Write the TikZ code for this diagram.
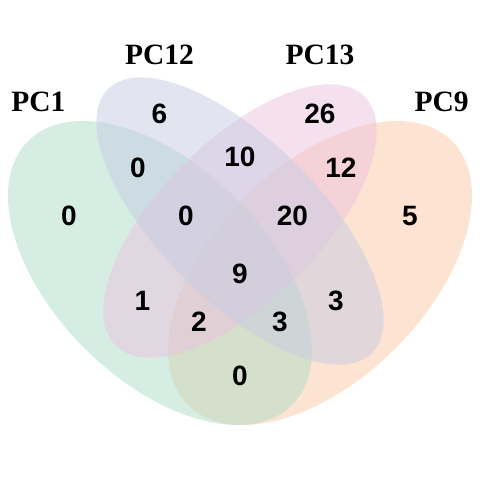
\documentclass[tikz,border=0pt]{standalone}
\usepackage{fontspec}
\setmainfont{Liberation Serif}
\newfontfamily\numfont{Liberation Sans}
\definecolor{setA}{HTML}{ADDDC7}
\definecolor{setB}{HTML}{C7CDE3}
\definecolor{setC}{HTML}{EDC3DF}
\definecolor{setD}{HTML}{FBC9A7}
\tikzset{
  setfill/.style={fill=#1, fill opacity=0.5, draw=none},
  count/.style={anchor=base, inner sep=0pt, font=\numfont\bfseries\fontsize{28}{28}\selectfont},
  setname/.style={anchor=base, inner sep=0pt, font=\bfseries\fontsize{29.5}{29.5}\selectfont},
}
\begin{document}
\begin{tikzpicture}[x=1pt, y=1pt]
  \fill[white] (0,0) rectangle (480,480);
  \useasboundingbox (0,0) rectangle (480,480);

  % the four sets, painted back to front
  \fill[setfill=setD, rotate around={45:(320,207)}]  (320,207) ellipse [x radius=186.6, y radius=106.6];
  \fill[setfill=setA, rotate around={-45:(160,207)}] (160,207) ellipse [x radius=186.6, y radius=106.6];
  \fill[setfill=setC, rotate around={45:(240,259)}]  (240,259) ellipse [x radius=176, y radius=80];
  \fill[setfill=setB, rotate around={-45:(240,259)}] (240,259) ellipse [x radius=186.6, y radius=80];

  % set names
  \node[setname] (nA) at (38.3,368.3)  {PC1};
  \node[setname] (nB) at (159.5,415.7) {PC12};
  \node[setname] (nC) at (320,415.7)   {PC13};
  \node[setname] (nD) at (441.7,368.3) {PC9};

  % region counts
  \node[count] (r1)    at (69,254.2)    {0};
  \node[count] (r2)    at (159.5,356.2) {6};
  \node[count] (r3)    at (320,356.5)   {26};
  \node[count] (r4)    at (410,254.2)   {5};
  \node[count] (r12)   at (138,302.2)   {0};
  \node[count] (r23)   at (240,313.5)   {10};
  \node[count] (r34)   at (341,302.2)   {12};
  \node[count] (r123)  at (186,254.2)   {0};
  \node[count] (r234)  at (292.5,254.2) {20};
  \node[count] (r1234) at (240,196.2)   {9};
  \node[count] (r13)   at (142.5,169.2) {1};
  \node[count] (r24)   at (336,169.5)   {3};
  \node[count] (r134)  at (199,148.5)   {2};
  \node[count] (r124)  at (280,148.5)   {3};
  \node[count] (r14)   at (240,94.2)    {0};
\end{tikzpicture}
\end{document}
